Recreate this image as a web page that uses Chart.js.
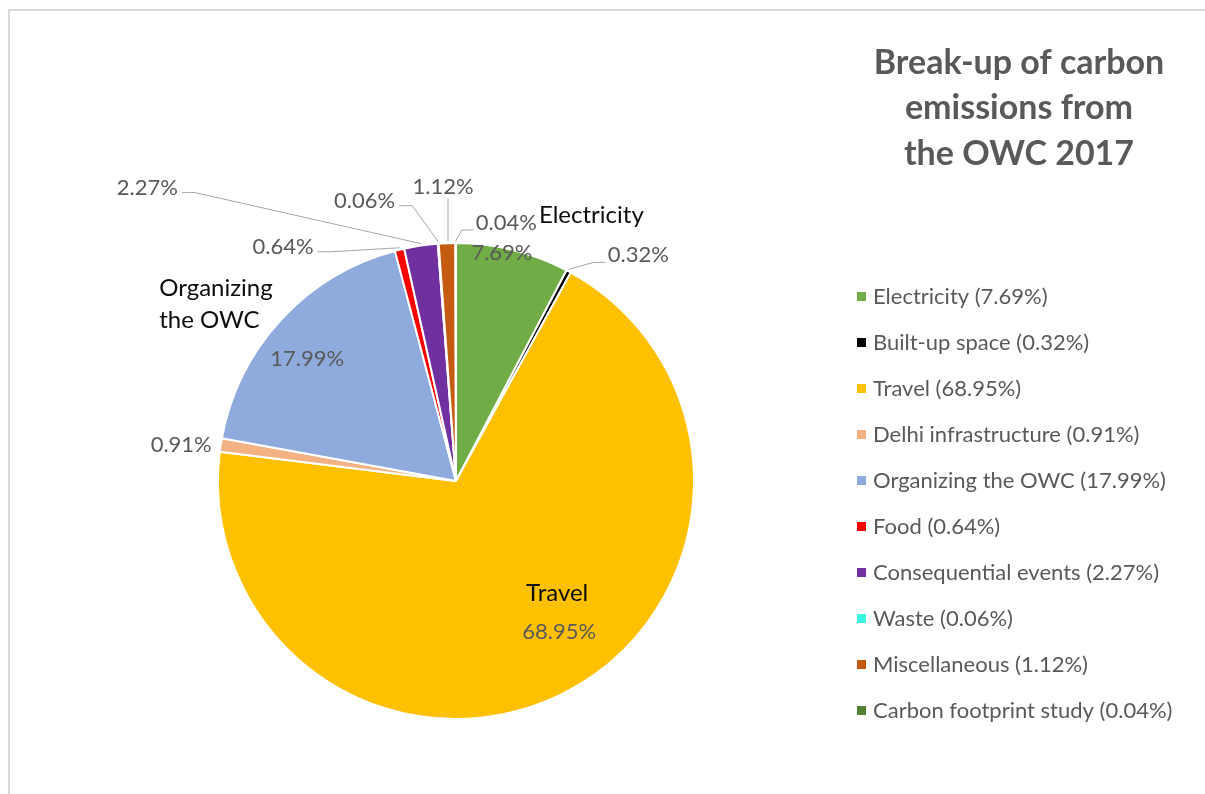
<!DOCTYPE html>
<html>
<head>
<meta charset="utf-8">
<script src="https://cdn.jsdelivr.net/npm/chart.js@4.4.1/dist/chart.umd.min.js"></script>
<style>
  html, body { margin: 0; padding: 0; background: #fff; }
  #wrap { position: relative; width: 1205px; height: 794px; overflow: hidden; }
  #frame { position: absolute; left: 8px; top: 9px; right: -10px; bottom: -10px;
           border-top: 2px solid #d9d9d9; border-left: 2px solid #d9d9d9; }
  canvas { position: absolute; left: 0; top: 0; }
</style>
</head>
<body>
<div id="wrap">
  <div id="frame"></div>
  <canvas id="chart" width="1205" height="794"></canvas>
</div>
<script>
// data
const categories = ["Electricity", "Built-up space", "Travel", "Delhi infrastructure",
  "Organizing the OWC", "Food", "Consequential events", "Waste", "Miscellaneous",
  "Carbon footprint study"];
const shares = [7.69, 0.32, 68.95, 0.91, 17.99, 0.64, 2.27, 0.06, 1.12, 0.04];
const sliceColors = ["#70AD47", "#000000", "#FFC000", "#F4B183", "#8FAADC",
  "#FF0000", "#7030A0", "#3FF5E6", "#C55A11", "#548235"];
const titleLines = ["Break-up of carbon", "emissions from", "the OWC 2017"];
// names shown next to the pie (some categories show only the value)
const pieNames = { 0: ["Electricity"], 2: ["Travel"], 4: ["Organizing", "the OWC"] };

// label placement, relative to the outer middle point of each slice
const valuePlace = [
  { dx: -11, dy: 3, align: "center", line: false },
  { dx: 39, dy: -16, align: "left", line: true },
  { dx: -5, dy: -61, align: "center", line: false },
  { dx: -9, dy: 0, align: "right", line: false },
  { dx: 26, dy: 39, align: "center", line: false },
  { dx: -86, dy: -3, align: "right", line: true },
  { dx: -243, dy: -58, align: "right", line: true },
  { dx: -43, dy: -43, align: "right", line: true },
  { dx: -4, dy: -56, align: "center", line: true },
  { dx: 20, dy: -20, align: "left", line: true }
];
const namePlace = {
  0: { dx: 26, dy: -35, align: "left", gap: 0 },
  2: { dx: -7, dy: -100, align: "center", gap: 0 },
  4: { dx: -122, dy: -31, align: "left", gap: 32 }
};

const FONT = "Lato, 'Open Sans', sans-serif";

const pieLabels = {
  id: "pieLabels",
  afterDatasetsDraw(chart) {
    const ctx = chart.ctx;
    const meta = chart.getDatasetMeta(0);
    ctx.save();
    ctx.textBaseline = "middle";
    meta.data.forEach((arc, i) => {
      const p = arc.getProps(["x", "y", "startAngle", "endAngle", "outerRadius"], true);
      const mid = (p.startAngle + p.endAngle) / 2;
      const ex = p.x + Math.cos(mid) * p.outerRadius;
      const ey = p.y + Math.sin(mid) * p.outerRadius;
      const vp = valuePlace[i];
      const lx = ex + vp.dx, ly = ey + vp.dy;
      const txt = shares[i].toFixed(2) + "%";
      ctx.font = "22px " + FONT;
      ctx.fillStyle = "#595959";
      ctx.textAlign = vp.align;
      ctx.fillText(txt, lx, ly);
      if (vp.line) {
        let ax, ay, bx, by;
        if (vp.align === "right") { ax = lx + 4; ay = ly + 5; bx = ax + 13; by = ay; }
        else if (vp.align === "left") { ax = lx - 2; ay = ly + 7; bx = ax - 12; by = ay; }
        else { ax = ex + 1; ay = ly + 11; bx = ax; by = ay; }
        ctx.strokeStyle = "#a6a6a6";
        ctx.lineWidth = 1;
        ctx.beginPath();
        ctx.moveTo(ax, ay);
        ctx.lineTo(bx, by);
        ctx.lineTo(ex + (ax === bx ? 1 : 0), ey - 2);
        ctx.stroke();
      }
      if (pieNames[i]) {
        const np = namePlace[i];
        ctx.font = "24px " + FONT;
        ctx.fillStyle = "#0d0d0d";
        ctx.textAlign = np.align;
        pieNames[i].forEach((t, k) => ctx.fillText(t, ex + np.dx, ey + np.dy + k * np.gap));
      }
    });
    ctx.restore();
  }
};

const sideParts = {
  id: "sideParts",
  afterDraw(chart) {
    const ctx = chart.ctx;
    ctx.save();
    // title
    ctx.font = "bold 34px " + FONT;
    ctx.fillStyle = "#595959";
    ctx.textAlign = "center";
    ctx.textBaseline = "middle";
    titleLines.forEach((t, k) => ctx.fillText(t, 1019, 63 + k * 45.5));
    // legend
    ctx.font = "22px " + FONT;
    ctx.textAlign = "left";
    categories.forEach((c, i) => {
      const y = 297 + i * 46;
      ctx.fillStyle = sliceColors[i];
      ctx.fillRect(857, y - 5, 9, 9);
      ctx.fillStyle = "#595959";
      ctx.fillText(c + " (" + shares[i].toFixed(2) + "%)", 873, y);
    });
    ctx.restore();
  }
};

new Chart(document.getElementById("chart"), {
  type: "pie",
  data: {
    labels: categories,
    datasets: [{
      data: shares,
      backgroundColor: sliceColors,
      borderColor: "#ffffff",
      borderWidth: 2,
      hoverOffset: 0
    }]
  },
  options: {
    responsive: false,
    animation: false,
    layout: { padding: { left: 217, top: 242, right: 510, bottom: 74 } },
    plugins: {
      legend: { display: false },
      tooltip: { enabled: false }
    }
  },
  plugins: [pieLabels, sideParts]
});
</script>
</body>
</html>
